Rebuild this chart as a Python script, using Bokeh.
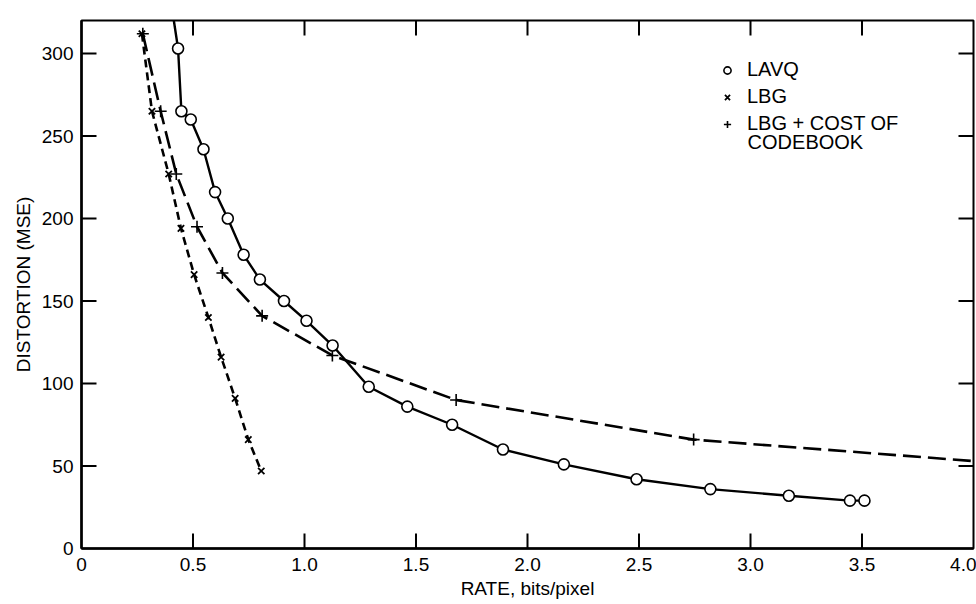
from bokeh.plotting import figure
from bokeh.models import Range1d, FixedTicker, Legend, LegendItem, Label
from bokeh.embed import file_html
from bokeh.resources import INLINE

# ---- data ----
lavq_rate = [0.414, 0.433, 0.448, 0.490, 0.547, 0.599, 0.656, 0.727, 0.800, 0.908, 1.009,
             1.126, 1.288, 1.461, 1.662, 1.890, 2.163, 2.489, 2.820, 3.172, 3.446, 3.511]
lavq_mse = [320, 303, 265, 260, 242, 216, 200, 178, 163, 150, 138,
            123, 98, 86, 75, 60, 51, 42, 36, 32, 29, 29]

lbg_rate = [0.271, 0.316, 0.391, 0.446, 0.505, 0.569, 0.626, 0.689, 0.748, 0.806]
lbg_mse = [312, 265, 227, 194, 166, 140, 116, 91, 66, 47]

cost_rate = [0.275, 0.355, 0.425, 0.518, 0.632, 0.810, 1.125, 1.680, 2.745, 4.0]
cost_mse = [312, 265, 227, 195, 167, 141, 117, 90, 66, 53]

x_ticks = [0, 0.5, 1.0, 1.5, 2.0, 2.5, 3.0, 3.5, 4.0]
x_tick_labels = ["0", "0.5", "1.0", "1.5", "2.0", "2.5", "3.0", "3.5", "4.0"]
y_ticks = [0, 50, 100, 150, 200, 250, 300]

X_MIN, X_MAX, Y_MIN, Y_MAX = 0, 4.0, 0, 320
FONT = "Liberation Sans"

FRAME_W, FRAME_H = 892, 529
B_LEFT, B_RIGHT, B_TOP, B_BOTTOM = 81, 3, 20, 52

p = figure(width=B_LEFT + FRAME_W + B_RIGHT, height=B_TOP + FRAME_H + B_BOTTOM,
           output_backend="svg", toolbar_location=None,
           x_range=Range1d(X_MIN, X_MAX), y_range=Range1d(Y_MIN, Y_MAX),
           min_border_left=B_LEFT, min_border_right=B_RIGHT,
           min_border_top=B_TOP, min_border_bottom=B_BOTTOM,
           x_axis_label="RATE, bits/pixel", y_axis_label="DISTORTION (MSE)")
p.grid.visible = False
p.outline_line_color = "black"
p.outline_line_width = 2
p.background_fill_color = "white"
p.border_fill_color = "white"

TICK_PX = 15

def style_axis(ax):
    ax.major_tick_in = 0
    ax.major_tick_out = 0
    ax.minor_tick_in = 0
    ax.minor_tick_out = 0
    ax.axis_line_width = 2.5
    ax.axis_line_color = "black"

for ax in p.xaxis:
    style_axis(ax)
    ax.ticker = FixedTicker(ticks=x_ticks)
    ax.major_label_overrides = {t: s for t, s in zip(x_ticks, x_tick_labels)}
    ax.major_label_text_font = FONT
    ax.major_label_text_font_size = "19px"
    ax.major_label_text_color = "black"
    ax.major_label_standoff = 9
    ax.axis_label_text_font = FONT
    ax.axis_label_text_font_size = "19px"
    ax.axis_label_text_font_style = "normal"
    ax.axis_label_standoff = 4
    ax.axis_label_text_color = "black"

for ax in p.yaxis:
    style_axis(ax)
    ax.ticker = FixedTicker(ticks=y_ticks)
    ax.major_label_text_font = FONT
    ax.major_label_text_font_size = "19px"
    ax.major_label_text_color = "black"
    ax.major_label_standoff = 8
    ax.axis_label_text_font = FONT
    ax.axis_label_text_font_size = "19px"
    ax.axis_label_text_font_style = "normal"
    ax.axis_label_standoff = 5
    ax.axis_label_text_color = "black"

# inward tick marks on all four sides (tick length converted to data units)
ty = TICK_PX * (Y_MAX - Y_MIN) / FRAME_H
tx = TICK_PX * (X_MAX - X_MIN) / FRAME_W
xt = [t for t in x_ticks if X_MIN < t < X_MAX]
yt = [t for t in y_ticks if Y_MIN < t < Y_MAX]
p.multi_line(xs=[[t, t] for t in xt] * 2,
             ys=[[Y_MIN, Y_MIN + ty] for t in xt] + [[Y_MAX, Y_MAX - ty] for t in xt],
             line_color="black", line_width=2)
p.multi_line(xs=[[X_MIN, X_MIN + tx] for t in yt] + [[X_MAX, X_MAX - tx] for t in yt],
             ys=[[t, t] for t in yt] * 2,
             line_color="black", line_width=2)

# lines
p.line(cost_rate, cost_mse, line_color="black", line_width=2.6, line_dash="18 7")
p.line(lbg_rate, lbg_mse, line_color="black", line_width=2.6, line_dash="8 5")
p.line(lavq_rate, lavq_mse, line_color="black", line_width=2.4)

# markers (end points at the frame edge are where the curves leave the chart)
r_p = p.scatter(cost_rate[:-1], cost_mse[:-1], marker="cross", size=12,
                line_color="black", line_width=1.6)
r_x = p.scatter(lbg_rate, lbg_mse, marker="x", size=9,
                line_color="black", line_width=1.8)
r_c = p.scatter(lavq_rate[1:], lavq_mse[1:], marker="circle", size=11,
                fill_color="white", line_color="black", line_width=1.6)

legend = Legend(items=[
    LegendItem(label="LAVQ", renderers=[r_c]),
    LegendItem(label="LBG", renderers=[r_x]),
    LegendItem(label="LBG + COST OF", renderers=[r_p]),
], location=(637, 413))
legend.border_line_alpha = 0
legend.background_fill_alpha = 0
legend.label_text_font = FONT
legend.label_text_font_size = "20px"
legend.label_text_color = "black"
legend.glyph_width = 18
legend.glyph_height = 20
legend.label_height = 22
legend.label_standoff = 11
legend.spacing = 4
legend.padding = 0
legend.margin = 0
p.add_layout(legend)

# second line of the third legend entry
p.add_layout(Label(x=2.987, y=246.6, text="CODEBOOK", text_font=FONT,
                   text_font_size="20px", text_color="black",
                   text_baseline="middle", text_align="left"))

open("out.html", "w").write(file_html(p, INLINE))
